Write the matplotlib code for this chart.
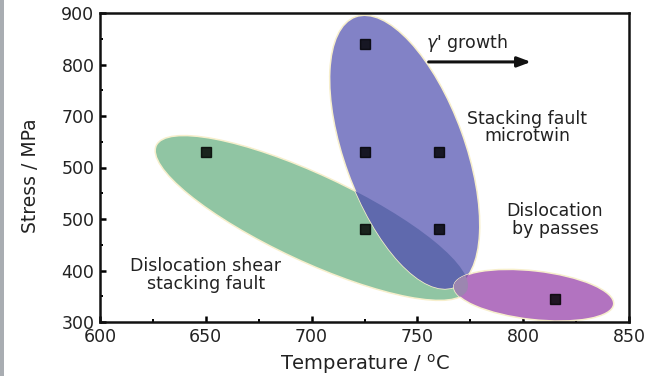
import matplotlib
matplotlib.use("Agg")
import matplotlib.pyplot as plt
from matplotlib.patches import Ellipse, Rectangle
from matplotlib.transforms import Affine2D
from matplotlib.ticker import MultipleLocator, FixedLocator, FixedFormatter

# ---------------- data ----------------
temps = [650, 725, 725, 760, 725, 760, 815]
stress = [630, 840, 630, 630, 480, 480, 345]

x_ticks = [600, 650, 700, 750, 800, 850]
y_ticks = [300, 400, 500, 600, 700, 800, 900]
y_tick_labels = ["300", "400", "500", "500", "700", "800", "900"]

# regions (ellipses): centre (T, stress), width/height in degC-equivalent units, angle
region_names = ["shear", "twin", "bypass"]
region_cx = [700, 744, 805]
region_cy = [502, 630, 352]
region_w = [162, 57, 76]
region_h = [41, 136, 23]
region_angle = [-25, 20, -6.5]
region_colors = ["#90c5a3", "#8282c6", "#b273c0"]

labels_text = ["Dislocation shear\nstacking fault", "Stacking fault\nmicrotwin",
               "Dislocation\nby passes"]
labels_x = [650, 802, 815]
labels_y = [391, 677, 498]

# ---------------- figure ----------------
W, H, DPI = 6.56, 3.76, 100
fig = plt.figure(figsize=(W, H), dpi=DPI)
fig.patches.append(Rectangle((0, 0), 3.5 / 656, 1, transform=fig.transFigure,
                             facecolor="#a9adb2", edgecolor="none"))
ax_l, ax_b, ax_r, ax_t = 100 / 656, 1 - 322 / 376, 629 / 656, 1 - 13 / 376
ax = fig.add_axes([ax_l, ax_b, ax_r - ax_l, ax_t - ax_b])
ax.set_xlim(600, 850)
ax.set_ylim(300, 900)

kx = W * DPI * (ax_r - ax_l) / 250.0
ky = H * DPI * (ax_t - ax_b) / 600.0
vscale = kx / ky

patches = []
for i in range(3):
    tr = Affine2D().scale(1, vscale).translate(region_cx[i], region_cy[i]) + ax.transData
    e = Ellipse((0, 0), region_w[i], region_h[i], angle=region_angle[i],
                facecolor=region_colors[i], edgecolor="#f7efcc", linewidth=1.1,
                transform=tr, zorder=2 + i)
    ax.add_patch(e)
    patches.append((e, tr, i))

# overlap shading
def overlap(top, bottom, color):
    e_top, tr_top, i = patches[top]
    e_bot = patches[bottom][0]
    o = Ellipse((0, 0), region_w[i], region_h[i], angle=region_angle[i],
                facecolor=color, edgecolor="none", transform=tr_top, zorder=2 + i + 0.5)
    ax.add_patch(o)
    o.set_clip_path(e_bot)

overlap(1, 0, "#5f69ad")
overlap(2, 1, "#8a62aa")
overlap(2, 0, "#9c86b0")

ax.plot(temps, stress, linestyle="none", marker="s", markersize=7.5,
        color="black", alpha=0.82, zorder=10)

for t, x, y in zip(labels_text, labels_x, labels_y):
    ax.text(x, y, t, ha="center", va="center", fontsize=12.5, color="#222222",
            linespacing=0.95, zorder=11)

ax.text(754, 842, "$\\gamma$' growth", ha="left", va="center", fontsize=12.5,
        color="#222222", zorder=11)
ax.annotate("", xy=(805, 805), xytext=(754, 805),
            arrowprops=dict(arrowstyle="-|>,head_length=0.8,head_width=0.3",
                            color="#111111", lw=2.2), zorder=11)

# axes styling
for s in ax.spines.values():
    s.set_linewidth(1.8)
    s.set_color("#111111")
    s.set_zorder(12)
ax.xaxis.set_major_locator(FixedLocator(x_ticks))
ax.xaxis.set_minor_locator(MultipleLocator(25))
ax.yaxis.set_major_locator(FixedLocator(y_ticks))
ax.yaxis.set_major_formatter(FixedFormatter(y_tick_labels))
ax.yaxis.set_minor_locator(MultipleLocator(50))
ax.tick_params(which="major", direction="in", length=4, width=1.8,
               labelsize=12.5, labelcolor="#222222", top=False, right=False, pad=4)
ax.tick_params(which="minor", direction="in", length=2, width=1.4, top=False, right=False)

ax.set_xlabel("Temperature / $^{\\mathregular{o}}$C", fontsize=14, color="#222222", labelpad=5)
ax.set_ylabel("Stress / MPa", fontsize=13.5, color="#222222")
ax.yaxis.set_label_coords(-0.113, 0.472)

fig.savefig("out.png", dpi=DPI)
